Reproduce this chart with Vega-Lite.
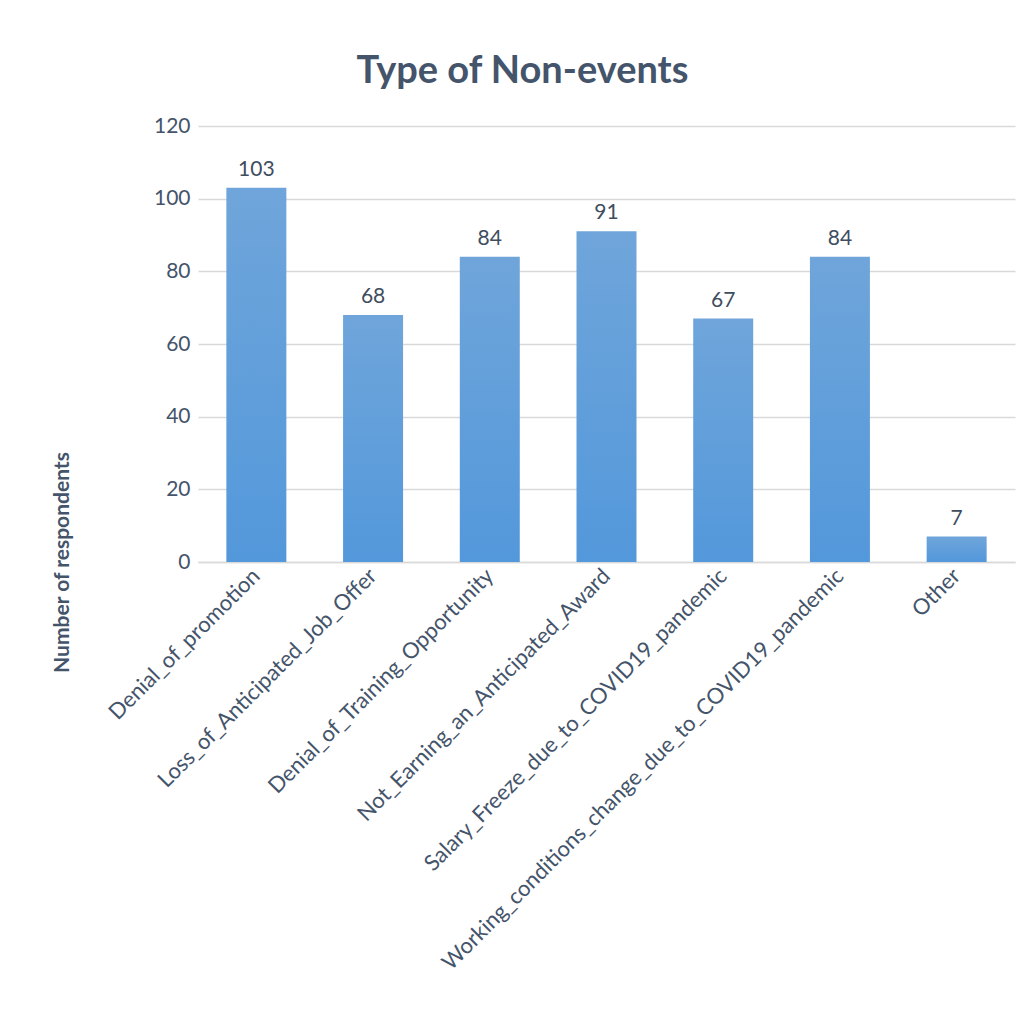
{
  "$schema": "https://vega.github.io/schema/vega-lite/v6.json",
  "width": 817,
  "height": 436,
  "autosize": {"type": "none"},
  "padding": {"left": 198, "top": 126, "right": 7, "bottom": 450},
  "background": "white",
  "title": {
    "text": "Type of Non-events",
    "anchor": "middle",
    "dx": -84,
    "offset": -6,
    "baseline": "alphabetic",
    "font": "Lato",
    "fontSize": 38,
    "fontWeight": "bold",
    "color": "#44546A"
  },
  "data": {
    "values": [
      {"type": "Denial_of_promotion", "count": 103},
      {"type": "Loss_of_Anticipated_Job_Offer", "count": 68},
      {"type": "Denial_of_Training_Opportunity", "count": 84},
      {"type": "Not_Earning_an_Anticipated_Award", "count": 91},
      {"type": "Salary_Freeze_due_to_COVID19_pandemic", "count": 67},
      {"type": "Working_conditions_change_due_to_COVID19_pandemic", "count": 84},
      {"type": "Other", "count": 7}
    ]
  },
  "config": {
    "view": {"stroke": null},
    "font": "Lato"
  },
  "encoding": {
    "x": {
      "field": "type",
      "type": "nominal",
      "sort": null,
      "scale": {"paddingInner": 0.486, "paddingOuter": 0.243},
      "axis": {
        "title": null,
        "labelAngle": -45,
        "labelAlign": "right",
        "labelBaseline": "middle",
        "labelFontSize": 22,
        "labelColor": "#44546A",
        "labelPadding": 10,
        "labelLimit": 0,
        "ticks": false,
        "domainColor": "#D9D9D9",
        "domainWidth": 1.5,
        "grid": false
      }
    },
    "y": {
      "field": "count",
      "type": "quantitative",
      "scale": {"domain": [0, 120]},
      "axis": {
        "title": "Number of respondents",
        "titleFontSize": 21,
        "titleFontWeight": "bold",
        "titleColor": "#44546A",
        "titleAngle": -90,
        "titleX": -136,
        "titleY": 436,
        "titleBaseline": "middle",
        "titleAlign": "center",
        "values": [0, 20, 40, 60, 80, 100, 120],
        "labelFontSize": 21,
        "labelColor": "#44546A",
        "labelPadding": 8,
        "ticks": false,
        "domain": false,
        "gridColor": "#D9D9D9",
        "gridWidth": 1.5
      }
    }
  },
  "layer": [
    {
      "mark": {
        "type": "bar",
        "color": {
          "gradient": "linear",
          "x1": 0, "y1": 0, "x2": 0, "y2": 1,
          "stops": [
            {"offset": 0, "color": "#6FA5DA"},
            {"offset": 1, "color": "#5398DB"}
          ]
        }
      }
    },
    {
      "mark": {
        "type": "text",
        "baseline": "alphabetic",
        "dy": -12,
        "fontSize": 21,
        "color": "#404D5E"
      },
      "encoding": {"text": {"field": "count", "type": "quantitative"}}
    }
  ]
}
